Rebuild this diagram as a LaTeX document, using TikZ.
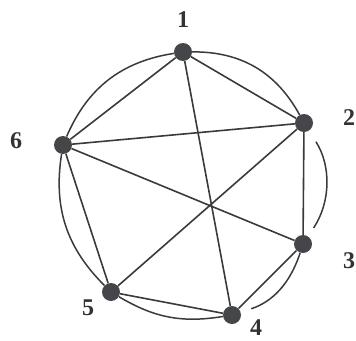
\documentclass[tikz,border=0pt]{standalone}
\usepackage{fontspec}
\setmainfont{Liberation Serif}
\usetikzlibrary{backgrounds}
\begin{document}
\begin{tikzpicture}[x=1pt,y=-1pt,
  vtx/.style={circle,fill=dotgray,draw=none,minimum size=18pt,inner sep=0pt},
  lbl/.style={inner sep=0pt,font=\fontsize{24}{24}\selectfont\bfseries,text=labgray},
  edge/.style={draw=linegray,line width=1.6pt},
  arcedge/.style={draw=linegray,line width=1.5pt}]
\definecolor{dotgray}{HTML}{45464A}
\definecolor{linegray}{HTML}{3A3A3C}
\definecolor{labgray}{HTML}{333333}
\useasboundingbox (0,0) rectangle (356,340);
\node[vtx] (n1) at (183,52) {};
\node[vtx] (n2) at (304,123) {};
\node[vtx] (n3) at (303,244) {};
\node[vtx] (n4) at (232,315) {};
\node[vtx] (n5) at (111,292) {};
\node[vtx] (n6) at (63,145) {};
\node[lbl] (l1) at (183,20) {1};
\node[lbl] (l2) at (349,118) {2};
\node[lbl] (l3) at (349,261) {3};
\node[lbl] (l4) at (256,328) {4};
\node[lbl] (l5) at (88,308) {5};
\node[lbl] (l6) at (16,140.5) {6};
\begin{pgfonlayer}{background}
\path[edge] (n1) -- (n2);
\path[edge] (n1) -- (n6);
\path[edge] (n1) -- (n4);
\path[edge] (n2) -- (n6);
\path[edge] (n2) -- (n3);
\path[edge] (n2) -- (n5);
\path[edge] (n3) -- (n6);
\path[edge] (n3) -- (n4);
\path[edge] (n4) -- (n5);
\path[edge] (n5) -- (n6);
\path[arcedge] (n1) to[bend left=31] (n2);
\path[arcedge,shorten <=13pt,shorten >=10pt] (n2) to[bend left=33] (n3);
\path[arcedge,shorten >=11pt] (n3) to[bend left=27] (n4);
\path[arcedge] (n4) to[bend left=20] (n5);
\path[arcedge] (n5) to[bend left=27] (n6);
\path[arcedge] (n6) to[bend left=29] (n1);
\end{pgfonlayer}
\end{tikzpicture}
\end{document}
